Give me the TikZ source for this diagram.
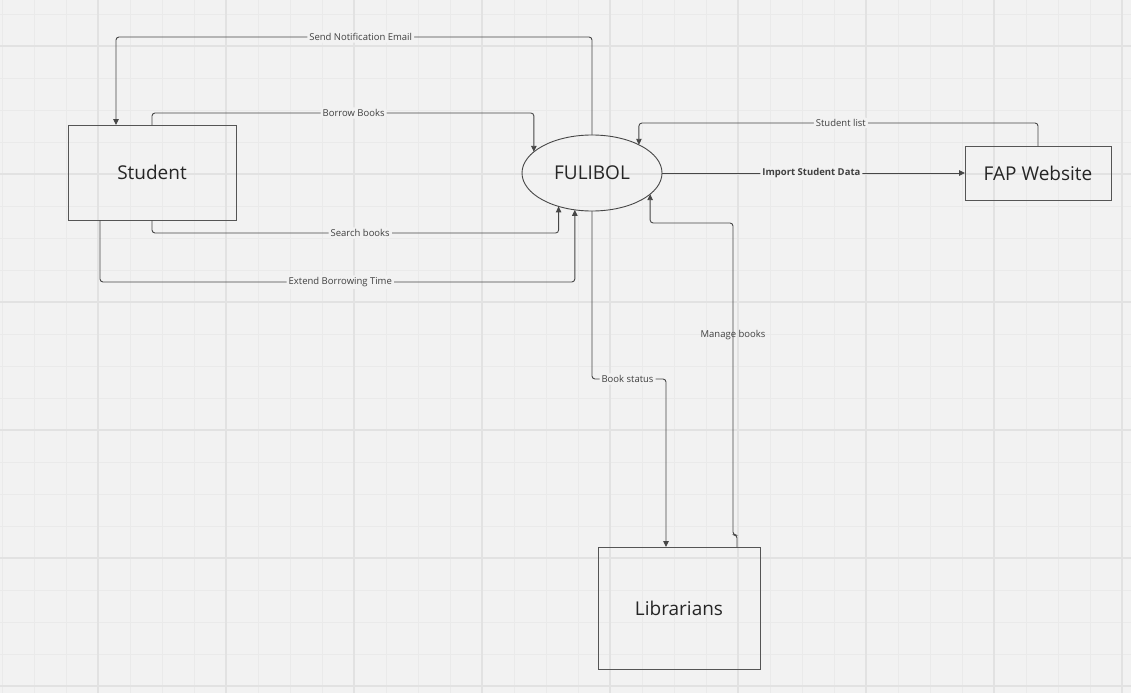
\documentclass[tikz,border=0pt]{standalone}
\usepackage{fontspec}
\setmainfont{Open Sans}
\usepackage{tikz}
\usetikzlibrary{shapes,arrows.meta,positioning}
\definecolor{boardbg}{HTML}{F2F2F2}
\definecolor{gridminor}{HTML}{EAEAEA}
\definecolor{gridmajor}{HTML}{E2E2E2}
\definecolor{inkline}{HTML}{474747}
\definecolor{boxline}{HTML}{555555}
\tikzstyle{entity} = [draw=boxline, line width=1pt, rectangle, inner sep=0pt, outer sep=0pt, text=black!85, font=\fontsize{19}{22}\selectfont]
\tikzstyle{process} = [draw=inkline, line width=0.9pt, ellipse, inner sep=0pt, outer sep=0pt, text=black!85, font=\fontsize{19}{22}\selectfont]
\tikzstyle{flow} = [draw=inkline, line width=0.9pt, rounded corners=3pt, -{Triangle[length=6pt,width=5.5pt]}]
\tikzstyle{lbl} = [fill=boardbg, text=black!75, inner sep=2pt, font=\fontsize{9.5}{11}\selectfont]

\begin{document}
\begin{tikzpicture}[x=1pt,y=-1pt]
	\useasboundingbox (0,0) rectangle (1131,693);
	\fill[boardbg] (0,0) rectangle (1131,693);
	% grid
	\foreach \gx in {2,34,...,1130} \draw[gridminor, line width=0.8pt] (\gx,0) -- (\gx,693);
	\foreach \gy in {14,46,...,693} \draw[gridminor, line width=0.8pt] (0,\gy) -- (1131,\gy);
	\foreach \gx in {98,226,...,1130} \draw[gridmajor, line width=1.2pt] (\gx,0) -- (\gx,693);
	\foreach \gy in {46,174,...,693} \draw[gridmajor, line width=1.2pt] (0,\gy) -- (1131,\gy);

	\node[entity, minimum width=168pt, minimum height=95pt] (student) at (152,172.5) {Student};
	\node[process, minimum width=140pt, minimum height=76pt] (fulibol) at (592,173) {FULIBOL};
	\node[entity, minimum width=146pt, minimum height=54pt] (fap) at (1038,173) {FAP Website};
	\node[entity, minimum width=162pt, minimum height=122pt] (librarians) at (679,608) {Librarians};

	\draw[flow] (fulibol.north) -- ++(0,-98) -| node[lbl, pos=0.243] {Send Notification Email} ([xshift=-36pt]student.north);
	\draw[flow] (student.north) -- ++(0,-12) -| node[lbl, pos=0.264] {Borrow Books} (fulibol.160.92);
	\draw[flow] (student.south) -- ++(0,13) -| node[lbl, pos=0.256] {Search books} (fulibol.225.43);
	\draw[flow] ([xshift=-52pt]student.south) -- ++(0,62) -| node[lbl, pos=0.253] {Extend Borrowing Time} (fulibol.245.26);
	\draw[flow] (fap.north) -- ++(0,-23) -| node[lbl, pos=0.247] {Student list} (fulibol.31.87);
	\draw[flow] (fulibol.east) -- node[lbl, pos=0.493, font=\fontsize{9.5}{11}\selectfont\bfseries] {Import Student Data} (fap.west);
	\draw[flow] (fulibol.south) -- ++(0,168) -| node[lbl, pos=0.24] {Book status} ([xshift=-13pt]librarians.north);
	\draw[flow] ([xshift=58pt]librarians.north) -- ++(0,-12) -- ++(-4,0) -- node[lbl, fill=none, pos=0.64] {Manage books} ++(0,-312) -| (fulibol.340.92);
\end{tikzpicture}
\end{document}
